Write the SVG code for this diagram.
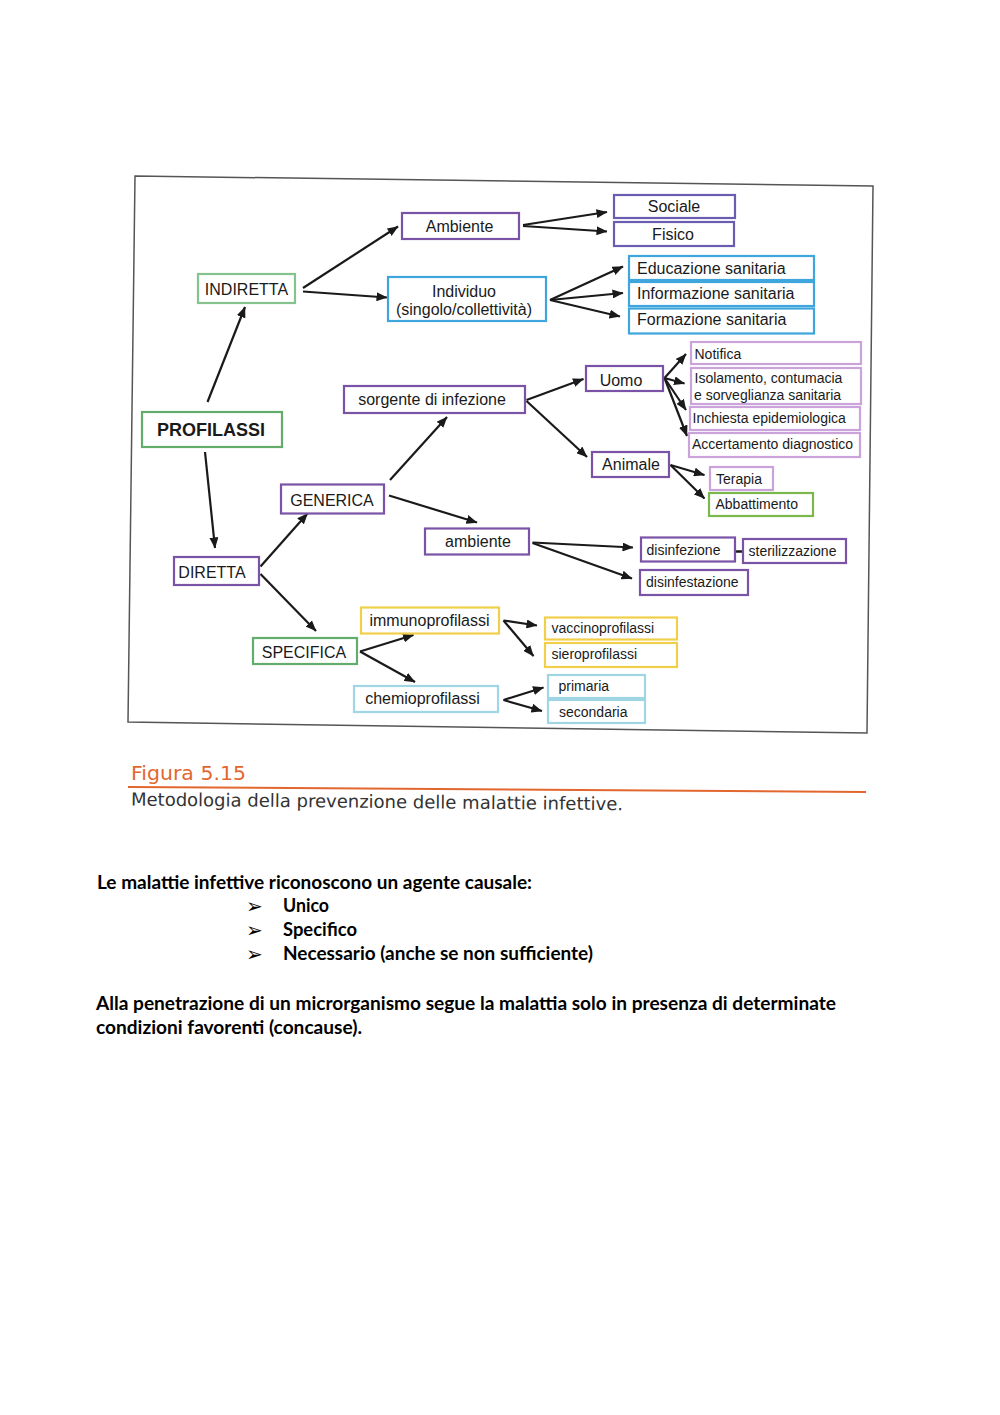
<svg xmlns="http://www.w3.org/2000/svg" width="1000" height="1415" viewBox="0 0 1000 1415">
<defs>
<marker id="ah" markerUnits="userSpaceOnUse" markerWidth="11" markerHeight="9" refX="10.5" refY="4.5" orient="auto">
<path d="M0,0 L11,4.5 L0,9 z" fill="#1a1a1a"/>
</marker>
<style>
.bx{fill:#fff;stroke-width:2.2}
.pu{stroke:#7a52a6}
.pb{stroke:#6a5cb0}
.bl{stroke:#3ea6dc}
.gr{stroke:#62ad6b}
.lg{stroke:#84c48c}
.lp{stroke:#c9a3d9}
.ag{stroke:#7ab84c}
.ye{stroke:#f0cf4a}
.lb{stroke:#9fd5e5}
.t{font-family:"Liberation Sans",Arial,sans-serif;fill:#1a1a1a}
.t16{font-size:16px}
.t14{font-size:14px}
.c{text-anchor:middle}
.cn line{stroke:#1a1a1a;stroke-width:2.2;marker-end:url(#ah)}
.body{font-family:Lato,"Open Sans",sans-serif;font-weight:700;font-size:18px;fill:#000}
.bul{font-family:"DejaVu Sans",sans-serif;font-size:20px;fill:#000}
</style>
</defs>
<rect width="1000" height="1415" fill="#fff"/>
<polygon points="135,176 873,186 867,733 128,722" fill="none" stroke="#555" stroke-width="1.5"/>

<g class="cn" id="connectors">
<line x1="207.5" y1="402" x2="245" y2="307"/>
<line x1="205" y1="452" x2="215" y2="548"/>
<line x1="303" y1="288" x2="398" y2="226.5"/>
<line x1="303" y1="291.5" x2="387" y2="297.5"/>
<line x1="523" y1="225" x2="607" y2="212"/>
<line x1="523" y1="226" x2="607" y2="231.5"/>
<line x1="550" y1="300" x2="623" y2="266.5"/>
<line x1="550" y1="300" x2="623" y2="293"/>
<line x1="550" y1="300" x2="620" y2="316.5"/>
<line x1="390" y1="480" x2="447" y2="417"/>
<line x1="389" y1="495.5" x2="477" y2="522.5"/>
<line x1="526.5" y1="400" x2="583.5" y2="379"/>
<line x1="526.5" y1="401" x2="587" y2="457"/>
<line x1="664.5" y1="378" x2="686" y2="354"/>
<line x1="664.5" y1="378" x2="684.5" y2="383.5"/>
<line x1="664.5" y1="378" x2="686" y2="410"/>
<line x1="664.5" y1="378" x2="687" y2="436"/>
<line x1="670.5" y1="465" x2="704.5" y2="475"/>
<line x1="670.5" y1="465" x2="704.5" y2="498.5"/>
<line x1="532.5" y1="542.5" x2="633" y2="547.5"/>
<line x1="532.5" y1="543" x2="632" y2="578.5"/>
<line x1="260.5" y1="566.5" x2="307.5" y2="513.5"/>
<line x1="260.5" y1="574" x2="316" y2="631"/>
<line x1="360" y1="651.5" x2="413.5" y2="635"/>
<line x1="360" y1="651.5" x2="415" y2="682"/>
<line x1="503.5" y1="620.5" x2="537" y2="625.5"/>
<line x1="503.5" y1="620.5" x2="533.5" y2="656"/>
<line x1="503.5" y1="700" x2="543.5" y2="687.5"/>
<line x1="503.5" y1="700" x2="542" y2="711"/>
<path d="M735.5,551.5 H742" stroke="#1a1a1a" stroke-width="2.5" fill="none"/>
</g>

<g id="profilassi"><rect class="bx gr" x="142" y="412" width="140" height="35"/><text class="t c" x="211" y="436" font-size="18" font-weight="700">PROFILASSI</text></g>
<g id="indiretta"><rect class="bx lg" x="198" y="274" width="97" height="29"/><text class="t t16 c" x="246.5" y="294.5">INDIRETTA</text></g>
<g id="ambiente1"><rect class="bx pu" x="402" y="213" width="117" height="26"/><text class="t t16 c" x="459.5" y="231.5">Ambiente</text></g>
<g id="individuo"><rect class="bx bl" x="388" y="277" width="158" height="44"/><text class="t t16 c" x="464" y="297">Individuo</text><text class="t t16 c" x="464" y="314.5">(singolo/collettività)</text></g>
<g id="sociale"><rect class="bx pb" x="614" y="195" width="121" height="23"/><text class="t t16 c" x="674" y="212">Sociale</text></g>
<g id="fisico"><rect class="bx pb" x="614" y="222" width="120" height="24"/><text class="t t16 c" x="673" y="239.5">Fisico</text></g>
<g id="educazione"><rect class="bx bl" x="629" y="256" width="185" height="24"/><text class="t t16" x="637" y="273.5">Educazione sanitaria</text></g>
<g id="informazione"><rect class="bx bl" x="629" y="282" width="185" height="24"/><text class="t t16" x="637" y="298.5">Informazione sanitaria</text></g>
<g id="formazione"><rect class="bx bl" x="629" y="308.5" width="185" height="25"/><text class="t t16" x="637" y="324.5">Formazione sanitaria</text></g>

<g id="sorgente"><rect class="bx pu" x="344" y="386" width="181" height="27"/><text class="t t16 c" x="432" y="405">sorgente di infezione</text></g>
<g id="uomo"><rect class="bx pu" x="586" y="366" width="77" height="25"/><text class="t t16 c" x="621" y="385.5">Uomo</text></g>
<g id="animale"><rect class="bx pu" x="592" y="452" width="77" height="25"/><text class="t t16 c" x="631" y="469.5">Animale</text></g>
<g id="notifica"><rect class="bx lp" x="691" y="342" width="170" height="22"/><text class="t t14" x="694.5" y="358.5">Notifica</text></g>
<g id="isolamento"><rect class="bx lp" x="691" y="368" width="170" height="36"/><text class="t t14" x="694.5" y="383">Isolamento, contumacia</text><text class="t t14" x="694" y="399.5">e sorveglianza sanitaria</text></g>
<g id="inchiesta"><rect class="bx lp" x="690" y="407" width="170" height="23"/><text class="t t14" x="692.5" y="423">Inchiesta epidemiologica</text></g>
<g id="accertamento"><rect class="bx lp" x="689" y="433" width="171" height="24"/><text class="t t14" x="692" y="448.5">Accertamento diagnostico</text></g>
<g id="terapia"><rect class="bx lp" x="710" y="467" width="63" height="23"/><text class="t t14" x="716" y="483.5">Terapia</text></g>
<g id="abbattimento"><rect class="bx ag" x="709" y="493" width="104" height="23"/><text class="t t14" x="715.5" y="509">Abbattimento</text></g>

<g id="generica"><rect class="bx pu" x="281" y="484.5" width="103" height="29"/><text class="t t16 c" x="332" y="505.5">GENERICA</text></g>
<g id="diretta"><rect class="bx pu" x="174" y="557" width="85" height="28"/><text class="t t16 c" x="212" y="577.5">DIRETTA</text></g>
<g id="ambiente2"><rect class="bx pu" x="425" y="528.5" width="104" height="26"/><text class="t t16 c" x="478" y="546.5">ambiente</text></g>
<g id="disinfezione"><rect class="bx pu" x="641" y="537.5" width="94" height="24"/><text class="t t14" x="646.5" y="554.5">disinfezione</text></g>
<g id="sterilizzazione"><rect class="bx pu" x="743" y="539" width="103" height="24"/><text class="t t14" x="748.5" y="556">sterilizzazione</text></g>
<g id="disinfestazione"><rect class="bx pu" x="640" y="570" width="108" height="25"/><text class="t t14" x="646" y="587">disinfestazione</text></g>

<g id="specifica"><rect class="bx gr" x="253" y="638" width="104" height="26"/><text class="t t16 c" x="304" y="657.5">SPECIFICA</text></g>
<g id="immuno"><rect class="bx ye" x="361" y="607.5" width="138" height="26"/><text class="t t16 c" x="429.5" y="626">immunoprofilassi</text></g>
<g id="chemio"><rect class="bx lb" x="354" y="686" width="144" height="26"/><text class="t t16 c" x="422.5" y="704">chemioprofilassi</text></g>
<g id="vaccino"><rect class="bx ye" x="545" y="617.5" width="132" height="22"/><text class="t t14" x="551.5" y="633">vaccinoprofilassi</text></g>
<g id="siero"><rect class="bx ye" x="545" y="643" width="132" height="24"/><text class="t t14" x="551.5" y="658.5">sieroprofilassi</text></g>
<g id="primaria"><rect class="bx lb" x="548" y="675" width="97" height="23"/><text class="t t14" x="558.5" y="691">primaria</text></g>
<g id="secondaria"><rect class="bx lb" x="548" y="700" width="97" height="23"/><text class="t t14" x="559" y="716.5">secondaria</text></g>

<g id="caption">
<text x="131" y="780" font-family="'DejaVu Sans',Verdana,sans-serif" font-size="20" fill="#e2672f" textLength="115" lengthAdjust="spacingAndGlyphs">Figura 5.15</text>
<line x1="128" y1="787" x2="866" y2="792" stroke="#e2672f" stroke-width="2"/>
<text x="131" y="805.5" font-family="'DejaVu Sans',Verdana,sans-serif" font-size="18" fill="#333" textLength="492" lengthAdjust="spacingAndGlyphs" transform="rotate(0.55 131 805.5)">Metodologia della prevenzione delle malattie infettive.</text>
</g>

<g id="bodytext">
<text class="body" x="97" y="889" textLength="435" lengthAdjust="spacingAndGlyphs">Le malattie infettive riconoscono un agente causale:</text>
<text class="bul" x="246" y="912.5">➢</text>
<text class="body" x="283" y="911.5" textLength="46" lengthAdjust="spacingAndGlyphs">Unico</text>
<text class="bul" x="246" y="936.5">➢</text>
<text class="body" x="283" y="935.5" textLength="74" lengthAdjust="spacingAndGlyphs">Specifico</text>
<text class="bul" x="246" y="961">➢</text>
<text class="body" x="283" y="960" textLength="310" lengthAdjust="spacingAndGlyphs">Necessario (anche se non sufficiente)</text>
<text class="body" x="96" y="1010" textLength="740" lengthAdjust="spacingAndGlyphs">Alla penetrazione di un microrganismo segue la malattia solo in presenza di determinate</text>
<text class="body" x="96" y="1034" textLength="266" lengthAdjust="spacingAndGlyphs">condizioni favorenti (concause).</text>
</g>
</svg>
